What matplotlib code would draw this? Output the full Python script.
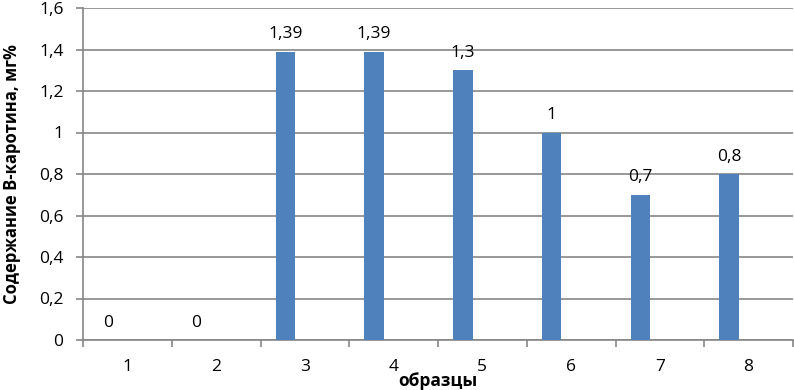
import matplotlib

matplotlib.use("Agg")
import matplotlib.pyplot as plt
import numpy as np

samples = ["1", "2", "3", "4", "5", "6", "7", "8"]
values = [0, 0, 1.39, 1.39, 1.3, 1, 0.7, 0.8]
value_labels = ["0", "0", "1,39", "1,39", "1,3", "1", "0,7", "0,8"]
y_ticks = [0, 0.2, 0.4, 0.6, 0.8, 1.0, 1.2, 1.4, 1.6]
y_tick_labels = ["0", "0,2", "0,4", "0,6", "0,8", "1", "1,2", "1,4", "1,6"]

plt.rcParams["font.family"] = ["Open Sans", "DejaVu Sans"]

fig = plt.figure(figsize=(7.94, 3.90), dpi=100)
ax = fig.add_axes([83 / 794, 1 - 340 / 390, 710 / 794, 332 / 390])

grid_c = "#868686"
x = np.arange(len(samples))
w = 0.22
ax.bar(x - w, values, width=w, color="#4F81BD", zorder=3)

for xi, v, lab in zip(x, values, value_labels):
    ax.text(xi - w, v + 0.045, lab, ha="center", va="bottom", fontsize=12.5)

ax.set_xlim(-0.5, len(samples) - 0.5)
ax.set_ylim(0, 1.6)
ax.set_yticks(y_ticks)
ax.set_yticklabels(y_tick_labels, fontsize=12.5)
ax.yaxis.grid(True, color=grid_c, linewidth=1.2, zorder=0)

ax.set_xticks(x)
ax.set_xticklabels(samples, fontsize=12.5)
ax.set_xticks(np.arange(-0.5, len(samples)), minor=True)
ax.tick_params(axis="x", which="major", length=0, pad=14)
ax.tick_params(axis="x", which="minor", length=5, color=grid_c, width=1.2)
ax.tick_params(axis="y", length=5, color=grid_c, width=1.2, pad=9)

for side in ["top", "right"]:
    ax.spines[side].set_visible(False)
for side in ["left", "bottom"]:
    ax.spines[side].set_color(grid_c)
    ax.spines[side].set_linewidth(1.2)

ax.set_ylabel("Содержание B-каротина, мг%", fontsize=12, fontweight="bold")
ax.yaxis.set_label_coords(-0.087, 0.5)
ax.set_xlabel("образцы", fontsize=12.5, fontweight="bold")
ax.xaxis.set_label_coords(0.5, -0.095)

fig.savefig("out.png", dpi=100)
